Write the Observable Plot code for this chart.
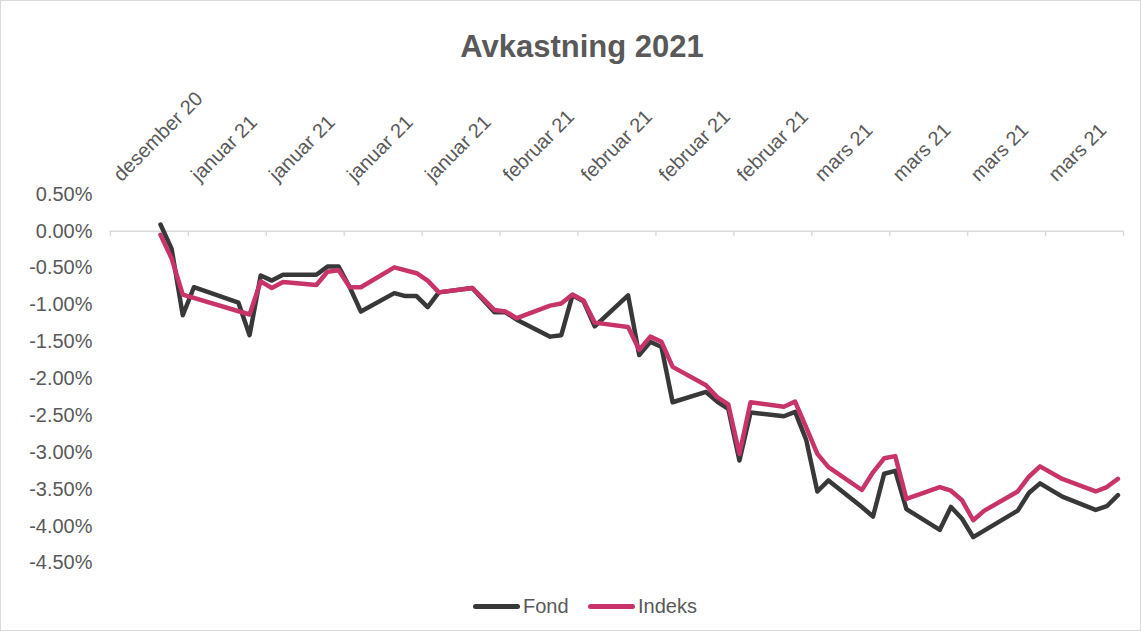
<!DOCTYPE html>
<html><head><meta charset="utf-8">
<script src="https://cdn.jsdelivr.net/npm/d3@7"></script>
<script src="https://cdn.jsdelivr.net/npm/@observablehq/plot@0.6"></script>
<style>
body{margin:0;background:#fff;font-family:"Liberation Sans",Arial,sans-serif;}
#wrap{position:relative;width:1141px;height:631px;box-sizing:border-box;border:1px solid #d9d9d9;overflow:hidden;background:#fff;}
#chart{position:absolute;left:-1px;top:-1px;}
#title{position:absolute;left:581px;top:31px;transform:translateX(-50%);font-size:31px;line-height:30px;font-weight:bold;color:#595959;white-space:nowrap;}
.sw{position:absolute;width:47px;height:5px;border-radius:2.5px;top:603px;}
.lt{position:absolute;top:594px;font-size:20px;line-height:22px;color:#595959;}
</style></head><body>
<div id="wrap">
  <div id="chart"></div>
  <div id="title">Avkastning 2021</div>
  <div class="sw" style="left:472px;background:#383838"></div>
  <div class="lt" style="left:522px">Fond</div>
  <div class="sw" style="left:587px;background:#c8336a"></div>
  <div class="lt" style="left:637px">Indeks</div>
</div>
<script>
const seriesNames = ["Fond", "Indeks"];
const seriesColors = ["#383838", "#c8336a"];

const fondDates = ["2021-01-04","2021-01-05","2021-01-06","2021-01-07","2021-01-11","2021-01-12","2021-01-13","2021-01-14","2021-01-15",
 "2021-01-18","2021-01-19","2021-01-20","2021-01-21","2021-01-22","2021-01-25","2021-01-26","2021-01-27","2021-01-28","2021-01-29",
 "2021-02-01","2021-02-03","2021-02-04","2021-02-05","2021-02-08","2021-02-09","2021-02-10","2021-02-11","2021-02-12",
 "2021-02-15","2021-02-16","2021-02-17","2021-02-18","2021-02-19","2021-02-22","2021-02-23","2021-02-24","2021-02-25","2021-02-26",
 "2021-03-01","2021-03-02","2021-03-03","2021-03-04","2021-03-05","2021-03-08","2021-03-09","2021-03-10","2021-03-11","2021-03-12",
 "2021-03-15","2021-03-16","2021-03-17","2021-03-18","2021-03-22","2021-03-23","2021-03-24","2021-03-26","2021-03-29","2021-03-30","2021-03-31"];
const fondValues = [0.09,-0.24,-1.14,-0.76,-0.97,-1.41,-0.60,-0.67,-0.59,
 -0.59,-0.48,-0.48,-0.76,-1.09,-0.84,-0.88,-0.88,-1.03,-0.83,
 -0.77,-1.10,-1.10,-1.20,-1.43,-1.41,-0.87,-0.95,-1.29,
 -0.87,-1.68,-1.50,-1.57,-2.32,-2.18,-2.31,-2.41,-3.11,-2.46,
 -2.51,-2.45,-2.83,-3.53,-3.38,-3.74,-3.87,-3.29,-3.25,-3.77,
 -4.05,-3.74,-3.90,-4.15,-3.79,-3.55,-3.42,-3.60,-3.78,-3.73,-3.58];

const indeksDates = ["2021-01-04","2021-01-05","2021-01-06","2021-01-12","2021-01-13","2021-01-14","2021-01-15",
 "2021-01-18","2021-01-19","2021-01-20","2021-01-21","2021-01-22","2021-01-25","2021-01-27","2021-01-28","2021-01-29",
 "2021-02-01","2021-02-03","2021-02-04","2021-02-05","2021-02-08","2021-02-09","2021-02-10","2021-02-11","2021-02-12",
 "2021-02-15","2021-02-16","2021-02-17","2021-02-18","2021-02-19","2021-02-22","2021-02-23","2021-02-24","2021-02-25","2021-02-26",
 "2021-03-01","2021-03-02","2021-03-03","2021-03-04","2021-03-05","2021-03-08","2021-03-09","2021-03-10","2021-03-11","2021-03-12",
 "2021-03-15","2021-03-16","2021-03-17","2021-03-18","2021-03-19","2021-03-22","2021-03-23","2021-03-24","2021-03-26","2021-03-29","2021-03-30","2021-03-31"];
const indeksValues = [-0.05,-0.37,-0.86,-1.13,-0.68,-0.77,-0.69,
 -0.73,-0.55,-0.53,-0.76,-0.76,-0.49,-0.57,-0.67,-0.83,
 -0.77,-1.07,-1.09,-1.18,-1.01,-0.98,-0.86,-0.94,-1.24,
 -1.30,-1.61,-1.43,-1.50,-1.84,-2.09,-2.25,-2.35,-3.02,-2.32,
 -2.38,-2.31,-2.66,-3.02,-3.20,-3.51,-3.27,-3.08,-3.05,-3.63,
 -3.47,-3.52,-3.65,-3.92,-3.79,-3.53,-3.33,-3.19,-3.36,-3.53,-3.47,-3.36];

const xTickDates = ["2020-12-31","2021-01-07","2021-01-14","2021-01-21","2021-01-28","2021-02-04","2021-02-11","2021-02-18","2021-02-25",
 "2021-03-04","2021-03-11","2021-03-18","2021-03-25"];
const xTickLabels = ["desember 20","januar 21","januar 21","januar 21","januar 21","februar 21","februar 21","februar 21","februar 21",
 "mars 21","mars 21","mars 21","mars 21"];
const xDomain = ["2020-12-31","2021-04-01"];
const yTicks = [0.5,0,-0.5,-1,-1.5,-2,-2.5,-3,-3.5,-4,-4.5];

const HALF_DAY = 12*3600*1000;
const toDay = s => new Date(Date.parse(s + "T00:00:00Z"));
const toMid = s => new Date(Date.parse(s + "T00:00:00Z") + HALF_DAY);

const fond = fondDates.map((d,i) => ({date: toMid(d), value: fondValues[i], series: seriesNames[0]}));
const indeks = indeksDates.map((d,i) => ({date: toMid(d), value: indeksValues[i], series: seriesNames[1]}));
const ticks = xTickDates.map((d,i) => ({date: toDay(d), label: xTickLabels[i]}));
const tickMarks = [...xTickDates, xDomain[1]].map(toDay);

const chart = Plot.plot({
  width: 1141, height: 631,
  marginLeft: 110, marginRight: 17, marginTop: 194, marginBottom: 68,
  style: {fontFamily: '"Liberation Sans", Arial, sans-serif', fontSize: "20px", color: "#595959", background: "transparent", overflow: "visible"},
  x: {type: "utc", domain: xDomain.map(toDay), axis: null},
  y: {domain: [-4.5, 0.5]},
  marks: [
    Plot.axisY(yTicks, {tickFormat: d => d.toFixed(2) + "%", tickSize: 0, tickPadding: 18, label: null, fontSize: 20, fill: "#595959"}),
    Plot.ruleY([0], {stroke: "#d9d9d9", strokeWidth: 1.5}),
    Plot.ruleX(tickMarks, {x: d => d, y1: 0, y2: -0.07, stroke: "#d9d9d9", strokeWidth: 1.5}),
    Plot.text(ticks, {x: "date", text: "label", frameAnchor: "top", rotate: -45, textAnchor: "start", dx: 1, dy: -22, fontSize: 20, fill: "#595959"}),
    Plot.line(fond, {x: "date", y: "value", stroke: seriesColors[0], strokeWidth: 4.5, strokeLinejoin: "round", strokeLinecap: "round"}),
    Plot.line(indeks, {x: "date", y: "value", stroke: seriesColors[1], strokeWidth: 4.5, strokeLinejoin: "round", strokeLinecap: "round"})
  ]
});
document.getElementById("chart").appendChild(chart);
</script>
</body></html>
